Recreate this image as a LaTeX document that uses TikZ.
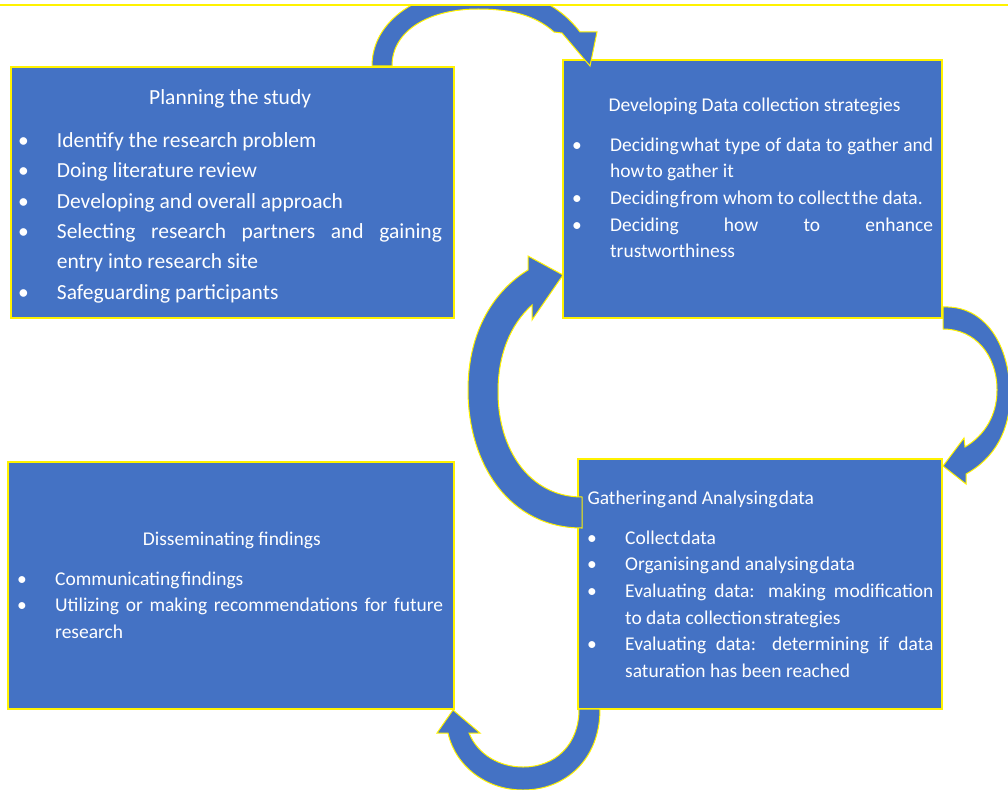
\documentclass[tikz,border=0pt]{standalone}
\usepackage{fontspec}
\setmainfont{Carlito}
\definecolor{officeblue}{HTML}{4472C4}
\newlength{\bulletgap}
\setlength{\bulletgap}{33.3pt}
% one bulleted entry: bullet hangs to the left of the text column
\newcommand{\listentry}[1]{\noindent\llap{\makebox[0pt]{\textbullet}\hspace{\bulletgap}}#1\par}
% tight inter-word gap used in some of the entries
\newcommand{\tsp}{\hspace{0.08em}}
\tikzset{
  stage/.style={fill=officeblue, draw=yellow, line width=1.2pt, inner sep=0pt, outer sep=0pt, anchor=north west},
  cyclearrow/.style={fill=officeblue, draw=yellow, line width=1pt, line join=miter},
  heading/.style={anchor=base west, inner sep=0pt, text=white},
  items/.style={anchor=base west, inner sep=0pt, text=white, align=justify,
    execute at begin node={\parindent=0pt\parskip=0pt\hyphenpenalty=10000\exhyphenpenalty=10000\tolerance=10000\emergencystretch=0pt}},
  bigtext/.style={font=\fontsize{21.5}{30.4}\selectfont},
  smalltext/.style={font=\fontsize{19.5}{26.7}\selectfont},
}
\begin{document}
\begin{tikzpicture}[x=1pt, y=-1pt]
\clip (0,0) rectangle (1008,789);
\fill[white] (0,0) rectangle (1008,789);

% the four stages
\node[stage, minimum width=443pt, minimum height=251pt] (plan) at (11,67) {};
\node[stage, minimum width=379pt, minimum height=258pt] (develop) at (563,60) {};
\node[stage, minimum width=446pt, minimum height=247pt] (dissem) at (8,462) {};
\node[stage, minimum width=364pt, minimum height=250pt] (gather) at (578,459) {};

% Planning the study
\node[heading, bigtext] (planhead) at (149,104.3) {Planning the study};
\node[items, bigtext, text width=385pt] (planlist) at (56.7,147.3) {%
  \listentry{Identify the research problem}%
  \listentry{Doing literature review}%
  \listentry{Developing and overall approach}%
  \listentry{Selecting research partners and gaining\linebreak entry into research site}%
  \listentry{Safeguarding participants}};

% Developing data collection strategies
\node[heading, smalltext] (devhead) at (608.3,111.7) {Developing Data collection strategies};
\node[items, smalltext, text width=323pt] (devlist) at (610,151) {%
  \listentry{Deciding\tsp what type of data to gather and\linebreak how\tsp to gather it}%
  \listentry{Deciding\tsp from whom to collect\tsp the data.}%
  \listentry{Deciding how to enhance\linebreak trustworthiness}};

% Disseminating findings
\node[heading, smalltext] (dishead) at (142.7,545.7) {Disseminating findings};
\node[items, smalltext, text width=388pt] (dislist) at (55,585) {%
  \listentry{Communicating\tsp findings}%
  \listentry{Utilizing or making recommendations for future\linebreak research}};

% Gathering and analysing data
\node[heading, smalltext] (gathead) at (587.3,504) {Gathering\tsp and Analysing\tsp data};
\node[items, smalltext, text width=308.3pt] (gatlist) at (625,544) {%
  \listentry{Collect\tsp data}%
  \listentry{Organising\tsp and analysing\tsp data}%
  \listentry{Evaluating data: making modification\linebreak to data collection\tsp strategies}%
  \listentry{Evaluating data: determining if data\linebreak saturation has been reached}};

% curved arrows joining the stages
\begin{scope}
  \clip (0,5) rectangle (1008,789);
  \path[cyclearrow] (372,66) .. controls (372,20) and (420,-12) .. (484,-12)
     .. controls (530,-12) and (562,8) .. (580,32)
     -- (597,32) -- (590,66) -- (562,33) -- (554,32)
     .. controls (535,15) and (510,9) .. (478,9)
     .. controls (430,9) and (392,30) .. (392,66) -- cycle;
\end{scope}
\draw[yellow, line width=1.5pt] (0,5) -- (1008,5);

\path[cyclearrow] (943,307) .. controls (985,305) and (1010,345) .. (1010,395)
   .. controls (1010,430) and (995,458) .. (966,474)
   -- (966,484) -- (943,466) -- (964,438) -- (965,447)
   .. controls (985,435) and (997,415) .. (997,390)
   .. controls (997,355) and (975,329) .. (943,329) -- cycle;

\path[cyclearrow] (600,709) .. controls (600,760) and (565,790) .. (523,790)
   .. controls (485,790) and (455,765) .. (448,733)
   -- (437,733) -- (453,710) -- (480,733) -- (469,733)
   .. controls (478,755) and (500,767) .. (523,767)
   .. controls (555,767) and (579,745) .. (579,709) -- cycle;

\path[cyclearrow] (582,528) .. controls (510,528) and (468,465) .. (468,390)
   .. controls (468,330) and (495,290) .. (528,270)
   -- (528,256) -- (563,275) -- (532,320) -- (532,305)
   .. controls (510,325) and (498,355) .. (498,392)
   .. controls (498,450) and (530,497) .. (582,497) -- cycle;
\end{tikzpicture}
\end{document}
